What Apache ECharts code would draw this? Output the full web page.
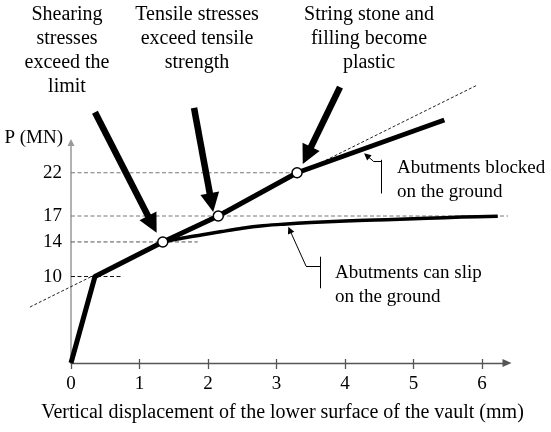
<!DOCTYPE html>
<html>
<head>
<meta charset="utf-8">
<script src="https://cdn.jsdelivr.net/npm/echarts@6/dist/echarts.min.js"></script>
<style>
html,body{margin:0;padding:0;background:#fff;}
#chart{width:551px;height:432px;}
</style>
</head>
<body>
<div id="chart"></div>
<script>
// ---- data (axis units: x = mm, y = MN) ----
const xTicks = [0, 1, 2, 3, 4, 5, 6];
const yTicks = [10, 14, 17, 22];
const xAxisName = 'Vertical displacement of the lower surface of the vault (mm)';
const yAxisName = 'P (MN)';

// abutments blocked (upper branch)
const blockedCurve = [[0, 0], [0.35, 10], [1.34, 14], [2.15, 17], [3.30, 22], [5.45, 28.1]];
// abutments can slip (lower branch)
const slipCurve = [[1.34, 14], [1.6, 14.4], [1.9, 14.8], [2.2, 15.2], [2.5, 15.58], [2.8, 15.87], [3.1, 16.06], [3.5, 16.24], [4.0, 16.42], [4.6, 16.58], [5.2, 16.74], [5.7, 16.87], [6.23, 16.97]];
// marked points
const markedPoints = [[1.34, 14], [2.15, 17], [3.30, 22]];
// inclined dashed tangent
const tangentLine = [[-0.6, 6.47], [5.92, 32.1]];
// horizontal reference levels
const ref10 = [[0, 10], [0.76, 10]];
const ref14 = [[0, 14], [1.85, 14]];
const ref17 = [[0, 17], [6.43, 17]];
const ref22 = [[0, 22], [3.30, 22]];

// thick annotation arrows: [start, head]
const bigArrows = [
  [[0.35, 29.0], [1.187, 16.03]],
  [[1.796, 29.5], [2.051, 18.55]],
  [[3.927, 31.9], [3.444, 24.01]]
];
// thin leaders
const leaderBars = [
  [[4.535, 23.5], [4.535, 19.6]],
  [[3.635, 12.29], [3.635, 8.64]]
];
const leaderStubs = [
  [[4.535, 23.35], [4.413, 23.35]],
  [[3.635, 11.21], [3.431, 11.21]]
];
const leaderArrows = [
  [[4.413, 23.35], [4.317, 23.99]],
  [[3.431, 11.21], [3.193, 15.39]]
];

// annotation texts
const noteShear = ['Shearing', 'stresses', 'exceed the', 'limit'];
const noteTensile = ['Tensile stresses', 'exceed tensile', 'strength'];
const notePlastic = ['String stone and', 'filling become', 'plastic'];
const noteBlocked = ['Abutments blocked', 'on the ground'];
const noteSlip = ['Abutments can slip', 'on the ground'];

// ---- chart ----
const FONT = '"Liberation Serif", "Times New Roman", serif';
const chart = echarts.init(document.getElementById('chart'), null, {renderer: 'canvas'});

function lineSeries(data, style, extra) {
  return Object.assign({
    type: 'line', data: data, showSymbol: false, symbol: 'none', clip: false,
    lineStyle: style, silent: true, animation: false
  }, extra || {});
}
function segs(list) { return list.map(c => ({coords: c})); }
function segSeries(list, style, sym, size, z) {
  return {
    type: 'lines', coordinateSystem: 'cartesian2d', polyline: false, silent: true, clip: false,
    z: z || 3, data: segs(list), symbol: sym, symbolSize: size,
    lineStyle: Object.assign({opacity: 1, curveness: 0}, style),
    animation: false
  };
}

const bigText = {fill: '#000', font: '20px ' + FONT, lineHeight: 24};
const smallText = {fill: '#000', font: '19px ' + FONT, lineHeight: 24};

const option = {
  animation: false,
  grid: {left: 71, right: 44, top: 142.5, bottom: 69, containLabel: false},
  xAxis: [{
    type: 'value', min: 0, max: 6.365,
    position: 'bottom',
    axisLine: {onZero: false, lineStyle: {color: '#555', width: 1.3}, symbol: ['none', 'triangle'], symbolSize: [8, 9]},
    axisTick: {show: true, inside: false, length: 6, lineStyle: {color: '#555', width: 1.3}, customValues: xTicks},
    axisLabel: {customValues: xTicks, color: '#000', fontSize: 19, fontFamily: FONT, margin: 12},
    splitLine: {show: false},
    name: xAxisName, nameLocation: 'middle', nameGap: 40,
    nameTextStyle: {color: '#000', fontSize: 20, fontFamily: FONT, padding: [0, 13, 0, 0]}
  }, {
    type: 'value', min: 0, max: 6.365,
    position: 'bottom',
    axisLine: {show: false, onZero: false},
    axisTick: {show: true, inside: true, length: 4, lineStyle: {color: '#555', width: 1.3}, customValues: xTicks},
    axisLabel: {show: false},
    splitLine: {show: false}
  }],
  yAxis: {
    type: 'value', min: 0, max: 25.5,
    axisLine: {show: true, onZero: false, lineStyle: {color: '#999', width: 1.5}, symbol: ['none', 'triangle'], symbolSize: [7, 7]},
    axisTick: {show: false},
    axisLabel: {customValues: yTicks, color: '#000', fontSize: 19, fontFamily: FONT, margin: 9},
    splitLine: {show: false},
    name: yAxisName, nameLocation: 'end', nameGap: 4.5,
    nameTextStyle: {color: '#000', fontSize: 19, fontFamily: FONT, align: 'right', verticalAlign: 'middle', padding: [0, 8, 0, 0]}
  },
  series: [
    lineSeries(ref22, {color: '#777', width: 1, type: [4, 2.5]}),
    lineSeries(ref17, {color: '#777', width: 1, type: [4, 2.5]}),
    lineSeries(ref14, {color: '#555', width: 1, type: [4, 2.5]}),
    lineSeries(ref10, {color: '#111', width: 1, type: [4, 2.5]}),
    segSeries([tangentLine], {color: '#222', width: 1, type: [3, 2]}, ['none', 'none'], 0, 2),
    lineSeries(slipCurve, {color: '#000', width: 3.5}, {smooth: 0.3}),
    lineSeries(blockedCurve, {color: '#000', width: 5, join: 'round'}),
    {
      type: 'scatter', data: markedPoints, symbol: 'circle', symbolSize: 10, clip: false, silent: true,
      itemStyle: {color: '#ffffff', opacity: 1, borderColor: '#000', borderWidth: 1.5}, z: 5
    },
    segSeries(bigArrows, {color: '#000', width: 6.5}, ['none', 'triangle'], 19, 4),
    segSeries(leaderBars.concat(leaderStubs), {color: '#000', width: 1}, ['none', 'none'], 0, 3),
    segSeries(leaderArrows, {color: '#000', width: 1}, ['none', 'triangle'], 7, 3)
  ],
  graphic: [
    {type: 'text', x: 67, y: 3, style: Object.assign({text: noteShear.join('\n'), textAlign: 'center', textVerticalAlign: 'top'}, bigText)},
    {type: 'text', x: 197, y: 3, style: Object.assign({text: noteTensile.join('\n'), textAlign: 'center', textVerticalAlign: 'top'}, bigText)},
    {type: 'text', x: 369, y: 3, style: Object.assign({text: notePlastic.join('\n'), textAlign: 'center', textVerticalAlign: 'top'}, bigText)},
    {type: 'text', x: 397, y: 156, style: Object.assign({text: noteBlocked.join('\n'), textAlign: 'left', textVerticalAlign: 'top'}, smallText)},
    {type: 'text', x: 335, y: 261, style: Object.assign({text: noteSlip.join('\n'), textAlign: 'left', textVerticalAlign: 'top'}, smallText)}
  ]
};
chart.setOption(option);
</script>
</body>
</html>
